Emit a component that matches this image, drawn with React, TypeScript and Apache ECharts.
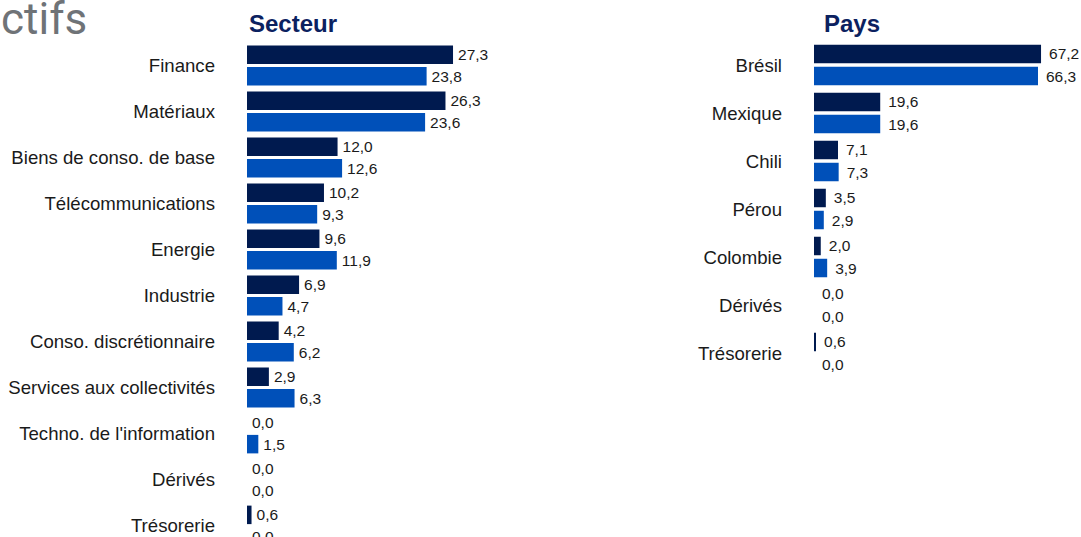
import React, { useEffect, useRef } from "react";
import * as echarts from "echarts";

const sectorCategories = [
  "Finance",
  "Matériaux",
  "Biens de conso. de base",
  "Télécommunications",
  "Energie",
  "Industrie",
  "Conso. discrétionnaire",
  "Services aux collectivités",
  "Techno. de l'information",
  "Dérivés",
  "Trésorerie",
];
const sectorFund = [27.3, 26.3, 12.0, 10.2, 9.6, 6.9, 4.2, 2.9, 0.0, 0.0, 0.6];
const sectorIndex = [23.8, 23.6, 12.6, 9.3, 11.9, 4.7, 6.2, 6.3, 1.5, 0.0, 0.0];

const countryCategories = ["Brésil", "Mexique", "Chili", "Pérou", "Colombie", "Dérivés", "Trésorerie"];
const countryFund = [67.2, 19.6, 7.1, 3.5, 2.0, 0.0, 0.6];
const countryIndex = [66.3, 19.6, 7.3, 2.9, 3.9, 0.0, 0.0];

const DARK = "#001a4f";
const BLUE = "#0050b9";
const FONT = "'Liberation Sans', Arial, sans-serif";

const fmt = (p: any) => Number(p.value).toFixed(1).replace(".", ",");

function barSeries(name: string, data: number[], color: string, idx: number, dist: number, gap: string) {
  return {
    type: "bar",
    name,
    data,
    xAxisIndex: idx,
    yAxisIndex: idx,
    barWidth: 18.5,
    barGap: gap,
    itemStyle: { color },
    label: {
      show: true,
      position: "right",
      distance: dist,
      formatter: fmt,
      fontSize: 15.5,
      fontFamily: FONT,
      color: "#1a1a1a",
    },
  };
}

export default function App() {
  const ref = useRef<HTMLDivElement>(null);
  useEffect(() => {
    if (!ref.current) return;
    const chart = echarts.init(ref.current, undefined, { renderer: "svg" });
    const yAxisBase = {
      type: "category",
      inverse: true,
      axisLine: { show: false },
      axisTick: { show: false },
      splitLine: { show: false },
      axisLabel: { fontSize: 18.6, fontFamily: FONT, color: "#1a1a1a", margin: 32 },
    };
    const xAxisBase = {
      type: "value",
      min: 0,
      show: false,
      splitLine: { show: false },
    };
    chart.setOption({
      animation: false,
      graphic: [
        {
          type: "text",
          left: 1,
          top: -3,
          style: { text: "ctifs", fontSize: 44, fontFamily: "Roboto, sans-serif", fill: "#6f7377" },
        },
        {
          type: "text",
          left: 249,
          top: 11,
          style: { text: "Secteur", fontSize: 24, fontWeight: "bold", fontFamily: FONT, fill: "#0b2160" },
        },
        {
          type: "text",
          left: 824,
          top: 11,
          style: { text: "Pays", fontSize: 24, fontWeight: "bold", fontFamily: FONT, fill: "#0b2160" },
        },
      ],
      grid: [
        { left: 247, top: 42.5, width: 226.4, height: 506 },
        { left: 814, top: 41, width: 236.5, height: 336 },
      ],
      xAxis: [
        { ...xAxisBase, gridIndex: 0, max: 30 },
        { ...xAxisBase, gridIndex: 1, max: 70 },
      ],
      yAxis: [
        { ...yAxisBase, gridIndex: 0, data: sectorCategories },
        { ...yAxisBase, gridIndex: 1, data: countryCategories },
      ],
      series: [
        barSeries("Fonds", sectorFund, DARK, 0, 5, "15%"),
        barSeries("Indice", sectorIndex, BLUE, 0, 5, "15%"),
        barSeries("Fonds", countryFund, DARK, 1, 8, "19%"),
        barSeries("Indice", countryIndex, BLUE, 1, 8, "19%"),
      ],
    });
    return () => chart.dispose();
  }, []);
  return (
    <div style={{ position: "fixed", left: 0, top: 0, width: 1081, height: 537, overflow: "hidden", background: "#fff" }}>
      <div ref={ref} style={{ width: 1081, height: 560 }} />
    </div>
  );
}
